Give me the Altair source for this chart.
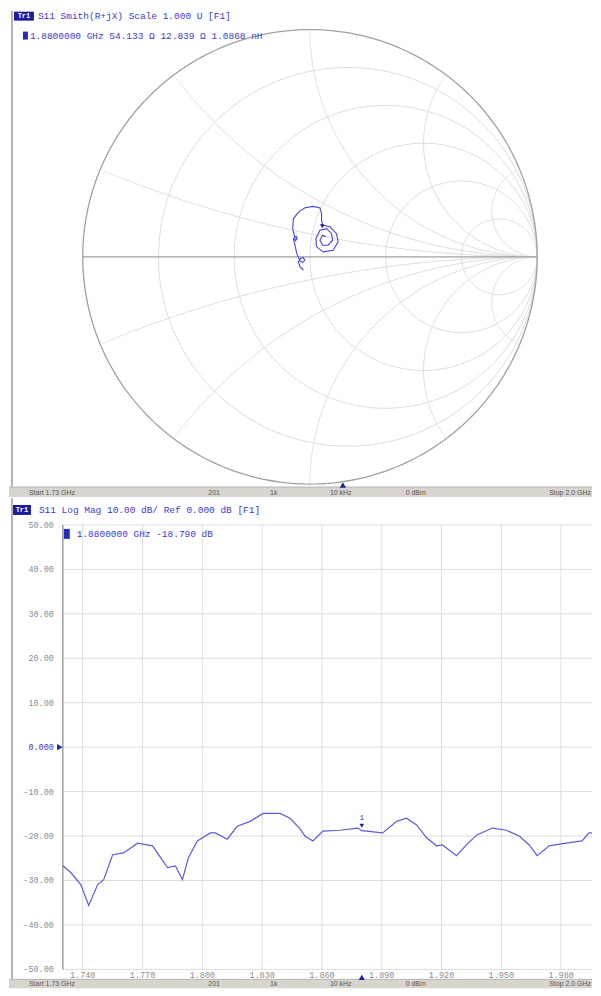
import altair as alt
import numpy as np
import pandas as pd

# ---------------- values ----------------
# Smith chart trace: reflection coefficient (real, imag), in sweep order
smith_re = [-0.029, -0.044, -0.051, -0.041, -0.029, -0.023, -0.032, -0.044, -0.058, -0.066,
            -0.073, -0.061, -0.056, -0.064, -0.076, -0.073, -0.051, -0.022, 0.014, 0.044,
            0.051, 0.051, 0.056, 0.088, 0.117, 0.124, 0.102, 0.058, 0.029, 0.026,
            0.044, 0.073, 0.095, 0.100, 0.080, 0.056, 0.044, 0.056, 0.070]
smith_im = [-0.058, -0.044, -0.022, -0.007, -0.004, -0.014, -0.025, -0.018, 0.014, 0.051,
            0.080, 0.091, 0.080, 0.071, 0.124, 0.168, 0.197, 0.216, 0.222, 0.215,
            0.190, 0.161, 0.139, 0.132, 0.102, 0.066, 0.029, 0.022, 0.044, 0.080,
            0.117, 0.124, 0.102, 0.073, 0.051, 0.051, 0.073, 0.095, 0.088]

# Smith chart grid: constant resistance circles and constant reactance arcs
r_circles = [0.2, 0.5, 1, 2, 5]
x_arcs = [0.2, 0.5, 1, 2, 5]

# Log-magnitude trace
freq_ghz = [1.730, 1.734, 1.739, 1.743, 1.7475, 1.7505, 1.755, 1.7605, 1.7675, 1.775,
            1.7825, 1.7865, 1.790, 1.793, 1.7975, 1.804, 1.8065, 1.8125, 1.8175, 1.824,
            1.8305, 1.839, 1.844, 1.849, 1.8515, 1.8555, 1.8605, 1.869, 1.878, 1.880,
            1.8905, 1.8975, 1.9025, 1.9075, 1.9125, 1.9175, 1.9205, 1.9275, 1.9325, 1.9375,
            1.9455, 1.9525, 1.959, 1.964, 1.968, 1.974, 1.9825, 1.9905, 1.994, 1.999]
s11_db = [-26.7, -28.2, -30.9, -35.6, -30.9, -29.8, -24.2, -23.8, -21.6, -22.2,
          -27.1, -26.7, -29.8, -24.9, -21.1, -19.3, -19.3, -20.7, -17.8, -16.7,
          -14.9, -14.9, -16.0, -18.4, -20.0, -21.1, -18.9, -18.7, -18.2, -18.8,
          -19.3, -16.7, -16.0, -17.5, -20.4, -22.2, -22.0, -24.4, -22.0, -19.8,
          -18.2, -18.7, -20.0, -22.0, -24.4, -22.2, -21.6, -21.1, -19.3, -19.3]

db_ticks = [50, 40, 30, 20, 10, 0, -10, -20, -30, -40, -50]
db_labels = ["50.00", "40.00", "30.00", "20.00", "10.00", "0.000",
             "-10.00", "-20.00", "-30.00", "-40.00", "-50.00"]
freq_ticks = [1.74, 1.77, 1.80, 1.83, 1.86, 1.89, 1.92, 1.95, 1.98]
freq_labels = ["1.740", "1.770", "1.800", "1.830", "1.860", "1.890", "1.920", "1.950", "1.980"]
f_start, f_stop = 1.73, 2.0

marker_freq = 1.88
marker_db = -18.79
marker_re, marker_im = 0.054, 0.117

top_title = "S11 Smith(R+jX) Scale 1.000 U [F1]"
top_marker = "1.8800000 GHz  54.133 \u03a9  12.839 \u03a9  1.0868 nH"
bot_title = "S11 Log Mag 10.00 dB/ Ref 0.000 dB [F1]"
bot_marker = "1.8800000 GHz  -18.790 dB"
status_items = ["Start 1.73 GHz", "201", "1k", "10 kHz", "0 dBm", "Stop 2.0 GHz"]

# ---------------- styling ----------------
FONT = "Liberation Mono"
BLUE = "#3c3cc8"
TRACE = "#5c5cd8"
GRID = "#dcdcdc"
FRAME = "#a0a0a0"
BAR = "#d8d5cf"
LABEL = "#8c8c8c"

W = 585
H_TOP = 488
H_BOT = 492

one = pd.DataFrame({"k": [0]})


def txt(text, x, y, size=9.5, color=BLUE, align="left", font=FONT, weight="normal"):
    return alt.Chart(one).mark_text(
        text=text, align=align, baseline="middle", fontSize=size, font=font,
        color=color, fontWeight=weight
    ).encode(x=alt.value(x), y=alt.value(y))


def box(x, x2, y, y2, color):
    return alt.Chart(one).mark_rect(color=color).encode(
        x=alt.value(x), x2=alt.value(x2), y=alt.value(y), y2=alt.value(y2))


def vline(x, y, y2, color, width):
    return alt.Chart(one).mark_rule(color=color, strokeWidth=width).encode(
        x=alt.value(x), y=alt.value(y), y2=alt.value(y2))


def status_bar(y0, h, tri_x):
    parts = [box(0, W, y0, y0 + h, BAR),
             alt.Chart(one).mark_rule(color="#b8b5ae").encode(
                 x=alt.value(0), x2=alt.value(W), y=alt.value(y0))]
    xs = [20, 200, 262, 322, 398]
    for t, xx in zip(status_items[:-1], xs):
        parts.append(txt(t, xx, y0 + h / 2 + 0.5, size=7, color="#555555",
                         font="Liberation Sans"))
    parts.append(txt(status_items[-1], W - 1, y0 + h / 2 + 0.5, size=7, color="#555555",
                     font="Liberation Sans", align="right"))
    parts.append(alt.Chart(one).mark_point(shape="triangle-up", filled=True, size=40,
                                           color="#2020a0", opacity=1).encode(
        x=alt.value(tri_x), y=alt.value(y0 - 2)))
    return parts


# ---------------- Smith chart panel ----------------
sx = alt.Scale(domain=[-302 / 228, (W - 302) / 228], nice=False, zero=False)
sy = alt.Scale(domain=[(247 - H_TOP) / 228, 247 / 228], nice=False, zero=False)

theta = np.linspace(0, 2 * np.pi, 241)
rows = []
for r in r_circles:
    c, rad = r / (1 + r), 1 / (1 + r)
    for i, t in enumerate(theta):
        rows.append({"id": f"r{r}", "o": i, "gr": c + rad * np.cos(t), "gi": rad * np.sin(t)})
res = np.concatenate([[0.0], np.geomspace(0.001, 5000, 500)])
for xv in x_arcs:
    for s in (1, -1):
        z = res + 1j * s * xv
        g = (z - 1) / (z + 1)
        for i, gv in enumerate(g):
            rows.append({"id": f"x{s * xv}", "o": i, "gr": gv.real, "gi": gv.imag})
grid_df = pd.DataFrame(rows)
outer_df = pd.DataFrame({"o": range(len(theta)), "gr": np.cos(theta), "gi": np.sin(theta)})
axis_df = pd.DataFrame({"o": [0, 1], "gr": [-1.0, 1.0], "gi": [0.0, 0.0]})
trace_df = pd.DataFrame({"o": range(len(smith_re)), "gr": smith_re, "gi": smith_im})
mk_df = pd.DataFrame({"gr": [marker_re], "gi": [marker_im]})


def gx():
    return alt.X("gr:Q", scale=sx, axis=None)


def gy():
    return alt.Y("gi:Q", scale=sy, axis=None)


smith_grid = alt.Chart(grid_df).mark_line(color=GRID, strokeWidth=1).encode(
    x=gx(), y=gy(), detail="id:N", order="o:Q")
smith_outer = alt.Chart(outer_df).mark_line(color=FRAME, strokeWidth=1.3).encode(
    x=gx(), y=gy(), order="o:Q")
smith_axis = alt.Chart(axis_df).mark_line(color=FRAME, strokeWidth=1.3).encode(
    x=gx(), y=gy(), order="o:Q")
smith_trace = alt.Chart(trace_df).mark_line(color="#4646d0", strokeWidth=1.1).encode(
    x=gx(), y=gy(), order="o:Q")
smith_mk = alt.Chart(mk_df).mark_point(shape="triangle-down", filled=True, size=22,
                                       color="#2020a0", opacity=1, yOffset=-4).encode(
    x=gx(), y=gy())

top_layers = [smith_grid, smith_outer, smith_axis, smith_trace, smith_mk,
              vline(3, 0, H_TOP - 10, "#b4b4b4", 2),
              box(5, 25, 1, 10, "#1c1ca0"),
              txt("Tr1", 15, 5.5, size=7, color="white", align="center", weight="bold"),
              txt(top_title, 29, 5.5),
              box(14, 19, 21, 29, "#2a2ab8"),
              txt(top_marker, 21, 25)]
top_layers += status_bar(H_TOP - 10, 10, 335)

top = alt.layer(*top_layers).properties(width=W, height=H_TOP)

# ---------------- Log magnitude panel ----------------
px_per_db = 4.46
zero_y = 250
bx = alt.Scale(domain=[f_start - 54 / 2000, f_start + (W - 54) / 2000], nice=False, zero=False)
by = alt.Scale(domain=[(zero_y - H_BOT) / px_per_db, zero_y / px_per_db], nice=False, zero=False)
f_end = f_start + (W - 54) / 2000

vgrid_df = pd.DataFrame({"f": freq_ticks, "lab": freq_labels, "lo": -50, "hi": 50})
hgrid_df = pd.DataFrame({"db": db_ticks, "lab": db_labels, "f0": f_start, "f1": f_end})
border_df = pd.DataFrame({"f": [f_start], "lo": [-50], "hi": [50]})
lm_df = pd.DataFrame({"f": freq_ghz, "db": s11_db})
mkb_df = pd.DataFrame({"f": [marker_freq], "db": [marker_db]})
ref_df = pd.DataFrame({"f": [f_start], "db": [0]})


def fx(field="f"):
    return alt.X(f"{field}:Q", scale=bx, axis=None)


def dy_(field="db"):
    return alt.Y(f"{field}:Q", scale=by, axis=None)


vgrid = alt.Chart(vgrid_df).mark_rule(color=GRID, strokeWidth=1).encode(
    x=fx(), y=dy_("lo"), y2="hi:Q")
hgrid = alt.Chart(hgrid_df).mark_rule(color=GRID, strokeWidth=1).encode(
    y=dy_(), x=fx("f0"), x2="f1:Q")
xlabels = alt.Chart(vgrid_df).mark_text(font=FONT, fontSize=8.5, color=LABEL,
                                        baseline="middle").encode(
    x=fx(), y=alt.value(479), text="lab:N")
ylabels = alt.Chart(hgrid_df).mark_text(font=FONT, fontSize=8.5, align="right",
                                        baseline="middle").encode(
    y=dy_(), x=alt.value(45), text="lab:N",
    color=alt.condition("datum.db == 0", alt.value(BLUE), alt.value(LABEL)))
border = alt.Chart(border_df).mark_rule(color=FRAME, strokeWidth=1.5).encode(
    x=fx(), y=dy_("lo"), y2="hi:Q")
lm_line = alt.Chart(lm_df).mark_line(color=TRACE, strokeWidth=1.2, clip=True).encode(
    x=fx(), y=dy_())
lm_mk = alt.Chart(mkb_df).mark_point(shape="triangle-down", filled=True, size=22,
                                     color="#2020a0", opacity=1, yOffset=-5).encode(
    x=fx(), y=dy_())
lm_mk_txt = alt.Chart(mkb_df).mark_text(text="1", fontSize=7, font=FONT, color="#2020a0",
                                        dy=-13).encode(x=fx(), y=dy_())
ref_mk = alt.Chart(ref_df).mark_point(shape="triangle-right", filled=True, size=40,
                                      color="#2020a0", opacity=1, xOffset=-3).encode(
    x=fx(), y=dy_())

bot_layers = [vgrid, hgrid, border, xlabels, ylabels, lm_line, lm_mk, lm_mk_txt, ref_mk,
              vline(3, 0, H_BOT - 9, "#b4b4b4", 2),
              box(4, 22, 7, 17, "#1c1ca0"),
              txt("Tr1", 13, 12, size=7, color="white", align="center", weight="bold"),
              txt(bot_title, 30, 12),
              box(55, 61, 31, 41, "#2a2ab8"),
              txt(bot_marker, 68, 36)]
bot_layers += status_bar(H_BOT - 9, 9, 354)

bottom = alt.layer(*bot_layers).properties(width=W, height=H_BOT)

chart = alt.vconcat(top, bottom, spacing=0).configure(
    padding=0, background="white"
).configure_view(stroke=None)

chart.save("out.html", embed_options={"renderer": "svg", "actions": False})
